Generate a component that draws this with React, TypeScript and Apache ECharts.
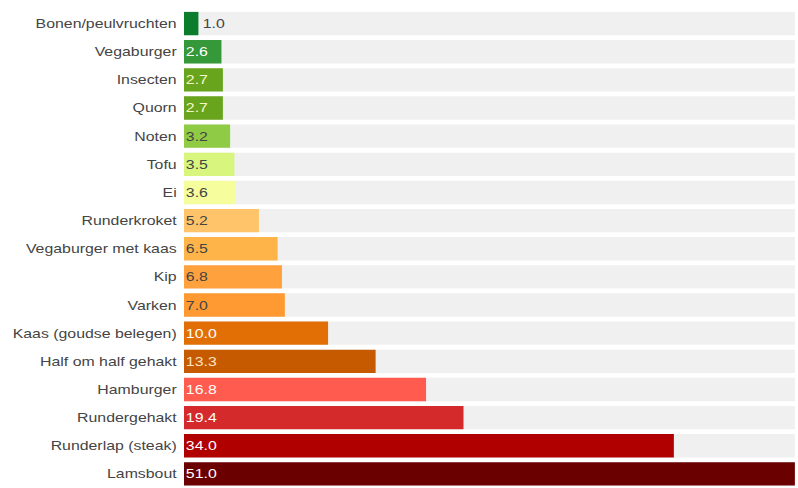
import React, { useEffect, useRef } from "react";
import * as echarts from "echarts";

const categories = [
  "Bonen/peulvruchten",
  "Vegaburger",
  "Insecten",
  "Quorn",
  "Noten",
  "Tofu",
  "Ei",
  "Runderkroket",
  "Vegaburger met kaas",
  "Kip",
  "Varken",
  "Kaas (goudse belegen)",
  "Half om half gehakt",
  "Hamburger",
  "Rundergehakt",
  "Runderlap (steak)",
  "Lamsbout",
];
const values = [1.0, 2.6, 2.7, 2.7, 3.2, 3.5, 3.6, 5.2, 6.5, 6.8, 7.0, 10.0, 13.3, 16.8, 19.4, 34.0, 51.0];
const barColors = [
  "#0b7d2c", "#35993a", "#68a51c", "#68a51c", "#8fcb45", "#d8f67e", "#f6fd9c",
  "#ffc46a", "#ffb44a", "#ffa23e", "#ff9a33", "#e26f06", "#c65a00",
  "#ff5b4f", "#d42a2b", "#b00000", "#6b0000",
];
const labelColors = [
  "#444444", "#ffffff", "#f4f8c8", "#f4f8c8", "#444444", "#444444", "#444444",
  "#444444", "#444444", "#444444", "#444444", "#ffffff", "#fbe3c0",
  "#ffffff", "#ffffff", "#ffffff", "#ffffff",
];

const STRETCH = 1.22;
const FULL_W = 798;
const FULL_H = 488;

export default function App() {
  const ref = useRef<HTMLDivElement>(null);
  useEffect(() => {
    if (!ref.current) return;
    const chart = echarts.init(ref.current, undefined, { renderer: "svg" });
    chart.setOption({
      animation: false,
      grid: {
        left: 184 / STRETCH,
        right: 3 / STRETCH,
        top: 9.5,
        height: 484.5,
        containLabel: false,
      },
      xAxis: {
        type: "value",
        min: 0,
        max: 42.4,
        show: false,
      },
      yAxis: {
        type: "category",
        data: categories,
        inverse: true,
        axisLine: { show: false },
        axisTick: { show: false },
        axisLabel: {
          color: "#444444",
          fontSize: 13,
          fontFamily: "Liberation Sans, Arial, sans-serif",
          margin: 6,
        },
      },
      series: [
        {
          type: "bar",
          barCategoryGap: "17%",
          showBackground: true,
          backgroundStyle: { color: "#f0f0f0" },
          clip: true,
          data: values.map((v, i) => ({
            value: v,
            itemStyle: { color: barColors[i] },
            label: {
              show: true,
              position: v < 2 ? "right" : "insideLeft",
              distance: v < 2 ? 3.5 : 1.5,
              color: labelColors[i],
              fontSize: 13,
              fontFamily: "Liberation Sans, Arial, sans-serif",
              formatter: () => v.toFixed(1),
            },
          })),
        },
      ],
    });
    return () => chart.dispose();
  }, []);
  return (
    <div
      style={{
        position: "fixed",
        left: 0,
        top: 0,
        width: FULL_W,
        height: FULL_H,
        background: "#ffffff",
        overflow: "hidden",
      }}
    >
      <div
        ref={ref}
        style={{
          width: FULL_W / STRETCH,
          height: FULL_H,
          transform: `scaleX(${STRETCH})`,
          transformOrigin: "0 0",
        }}
      />
    </div>
  );
}
